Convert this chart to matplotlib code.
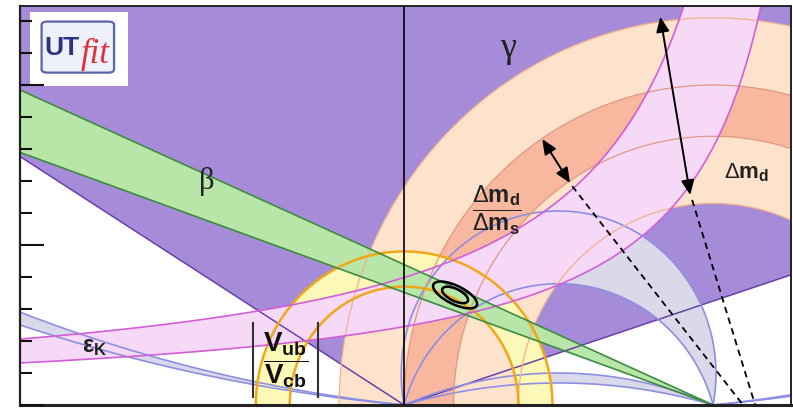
import numpy as np
import matplotlib.pyplot as plt
from matplotlib.patches import Wedge, Polygon, Ellipse, FancyBboxPatch, Rectangle

plt.rcParams['mathtext.fontset'] = 'custom'
plt.rcParams['mathtext.rm'] = 'Liberation Sans'
plt.rcParams['mathtext.bf'] = 'Liberation Sans:bold'
plt.rcParams['mathtext.it'] = 'Liberation Sans:italic'

# gamma: allowed directions seen from the origin (degrees)
gamma_range = [18.0, 148.0]
# Delta m_d and Delta m_d / Delta m_s rings around (1, 0)
dmd_ring = [0.63, 1.21]
ratio_ring = [0.84, 1.00]
# |Vub/Vcb| ring around the origin
vub_ring = [0.37, 0.48]
# sin2beta: tan(beta) of the two lines through (1, 0)
beta_tan = [0.352, 0.439]
# epsilon_K hyperbolae  eta = k / (rho0 - rho)  as (k, rho0)
epsk_low = [0.352, 1.437]
epsk_high = [0.530, 1.330]
# alpha: circles through (0,0) and (1,0) with centre (0.5, c)
alpha_main_c = [0.097, -0.140]
alpha_flat_c = [-1.20, -1.78]
alpha_side_c = [4.95, 5.70]
# fit result: centre, widths/heights of the two contours, tilt
fit_rho, fit_eta = 0.165, 0.344
fit_widths = [0.091, 0.155]
fit_heights = [0.038, 0.058]
fit_tilt = -25.0

# arrows showing the widths of the two Delta m bands
dmd_arrow = [(0.829, 1.213), (0.926, 0.656)]
dmd_guide = [(0.932, 0.641), (1.136, 0.0)]
ratio_arrow = [(0.447, 0.831), (0.537, 0.694)]
ratio_guide = [(0.544, 0.684), (1.097, 0.0)]

rho_lim = (-1.243, 1.252)
eta_lim = (0.0, 1.247)

purple, purple_ec = '#a68bd8', '#6a40a8'
peach, peach_ec = '#fde2cc', '#f2b08e'
salmon, salmon_ec = '#f8b8a0', '#e2987f'
yellow, yellow_ec = '#fcf9b8', '#f0a81a'
pink, pink_ec = '#f5d9f6', '#d25ed8'
grey, grey_ec = '#d9d9e9', '#8e8ee2'
green, green_ec = '#b8e6a8', '#3d8c42'


def alpha_arc(c, n=400):
    r = np.hypot(0.5, c)
    a = np.arctan2(-c, 0.5)
    t = np.linspace(a, np.pi - a, n)
    return 0.5 + r * np.cos(t), c + r * np.sin(t)


def alpha_side(c, rho):
    return c - np.sqrt(c ** 2 + rho - rho ** 2)


def ring_arc(cx, r, n=400):
    t = np.linspace(0, np.pi, n)
    return cx + r * np.cos(t), r * np.sin(t)


def epsk_curve(k, rho0, rho):
    return np.minimum(k / np.maximum(rho0 - rho, 1e-3), 3.0)


fig = plt.figure(figsize=(7.93, 4.08), dpi=100)
ax = fig.add_axes([20 / 793, 3 / 408, 771 / 793, 399 / 408])
ax.set_xlim(*rho_lim)
ax.set_ylim(*eta_lim)

# gamma wedge
far = 6.0
g1, g2 = np.radians(gamma_range)
ax.add_patch(Polygon([(0, 0), (far * np.cos(g1), far * np.sin(g1)),
                      (far * np.cos(g1), far), (far * np.cos(g2), far),
                      (far * np.cos(g2), far * np.sin(g2))],
                     closed=True, fc=purple, ec='none', zorder=1))

# alpha bands
for pair in (alpha_main_c, alpha_flat_c):
    x1, y1 = alpha_arc(pair[0])
    x2, y2 = alpha_arc(pair[1])
    ax.fill(np.r_[x1, x2[::-1]], np.r_[y1, y2[::-1]], fc=grey, ec='none', zorder=2)
rho_left = np.linspace(-1.4, 0, 300)
rho_right = np.linspace(1, 1.4, 100)
for rr in (rho_left, rho_right):
    ax.fill_between(rr, alpha_side(alpha_side_c[0], rr), alpha_side(alpha_side_c[1], rr),
                    fc=grey, ec='none', zorder=2)

# Delta m rings
ax.add_patch(Wedge((1, 0), dmd_ring[1], 0, 180, width=dmd_ring[1] - dmd_ring[0],
                   fc=peach, ec='none', zorder=3))
ax.add_patch(Wedge((1, 0), ratio_ring[1], 0, 180, width=ratio_ring[1] - ratio_ring[0],
                   fc=salmon, ec='none', zorder=4))

# |Vub/Vcb| ring
ax.add_patch(Wedge((0, 0), vub_ring[1], 0, 180, width=vub_ring[1] - vub_ring[0],
                   fc=yellow, ec='none', zorder=5))

# epsilon_K band
rho = np.linspace(-1.4, 1.4, 1200)
eps_lo = epsk_curve(*epsk_low, rho)
eps_hi = epsk_curve(*epsk_high, rho)
ax.fill_between(rho, eps_lo, eps_hi, fc=pink, ec='none', zorder=6)

# sin2beta band
rho_b = np.linspace(-1.4, 1.0, 50)
ax.fill_between(rho_b, beta_tan[0] * (1 - rho_b), beta_tan[1] * (1 - rho_b),
                fc=green, ec='none', zorder=7)

# outlines of every constraint
for ang in (g1, g2):
    ax.plot([0, far * np.cos(ang)], [0, far * np.sin(ang)], color=purple_ec, lw=1.1, zorder=8)
for c in alpha_main_c + alpha_flat_c:
    ax.plot(*alpha_arc(c), color=grey_ec, lw=1.2, zorder=8)
for c in alpha_side_c:
    ax.plot(rho_left, alpha_side(c, rho_left), color=grey_ec, lw=1.2, zorder=8)
    ax.plot(rho_right, alpha_side(c, rho_right), color=grey_ec, lw=1.2, zorder=8)
for r in dmd_ring:
    ax.plot(*ring_arc(1, r), color=peach_ec, lw=0.9, zorder=8)
for r in ratio_ring:
    ax.plot(*ring_arc(1, r), color=salmon_ec, lw=0.9, zorder=8)
for r in vub_ring:
    ax.plot(*ring_arc(0, r), color=yellow_ec, lw=1.8, zorder=8)
ax.plot(rho, eps_lo, color=pink_ec, lw=1.2, zorder=8)
ax.plot(rho, eps_hi, color=pink_ec, lw=1.2, zorder=8)
for tb in beta_tan:
    ax.plot(rho_b, tb * (1 - rho_b), color=green_ec, lw=1.2, zorder=8)

ax.axvline(0, color='black', lw=1.2, zorder=9)

# fit contours
for w, h in zip(fit_widths, fit_heights):
    ax.add_patch(Ellipse((fit_rho, fit_eta), w, h, angle=fit_tilt,
                         fc='none', ec='black', lw=1.8, zorder=10))

# width arrows and guide lines
for arrow, guide in ((dmd_arrow, dmd_guide), (ratio_arrow, ratio_guide)):
    ax.annotate('', xy=arrow[0], xytext=arrow[1],
                arrowprops=dict(arrowstyle='<|-|>,head_length=0.5,head_width=0.22',
                                color='black', lw=1.4, mutation_scale=18,
                                shrinkA=0, shrinkB=0), zorder=11)
    ax.plot([guide[0][0], guide[1][0]], [guide[0][1], guide[1][1]],
            color='black', lw=1.3, ls=(0, (3.6, 2.6)), zorder=11)

# labels
ax.text(0.337, 1.115, 'γ', family='Liberation Serif', fontsize=26,
        ha='center', va='center', color='#222222', zorder=12)
ax.text(-0.64, 0.70, 'β', family='Liberation Serif', fontsize=22,
        ha='center', va='center', color='#222222', zorder=12)
ax.text(1.107, 0.725, r'$\Delta\mathbf{m}_\mathbf{d}$', fontsize=16,
        ha='center', va='center', color='#222222', zorder=12)
ax.text(0.301, 0.607, r'$\dfrac{\Delta\mathbf{m}_\mathbf{d}}{\Delta\mathbf{m}_\mathbf{s}}$',
        fontsize=17, ha='center', va='center', color='#222222', zorder=12)
ax.text(-1.00, 0.185, r'$\mathbf{ε}_\mathbf{K}$', fontsize=17,
        ha='center', va='center', color='#222222', zorder=12)
ax.text(-0.382, 0.14, r'$\dfrac{\mathbf{V}_\mathbf{ub}}{\mathbf{V}_\mathbf{cb}}$',
        fontsize=20, ha='center', va='center', color='#111111', zorder=12)
for bar_rho in (-0.489, -0.278):
    ax.plot([bar_rho, bar_rho], [0.025, 0.256], color='#333333', lw=1.5, zorder=12)

# logo
ax.add_patch(Rectangle((0.013, 0.80), 0.127, 0.185, transform=ax.transAxes,
                       fc='white', ec='none', zorder=20))
ax.add_patch(FancyBboxPatch((0.028, 0.833), 0.094, 0.128, transform=ax.transAxes,
                            boxstyle='round,pad=0,rounding_size=0.008',
                            fc='#eef0fa', ec='#5a64a8', lw=1.6, zorder=21))
ax.text(0.031, 0.878, 'UT', transform=ax.transAxes, family='Liberation Sans',
        fontweight='bold', fontsize=19, color='#2b3380', ha='left', va='baseline', zorder=22)
ax.text(0.079, 0.858, 'fit', transform=ax.transAxes, family='Liberation Serif',
        style='italic', fontsize=25, color='#e0303a', ha='left', va='baseline', zorder=22)

# axes frame and ticks
ax.set_xticks([])
ax.set_yticks([0, 0.5, 1.0])
ax.set_yticks(np.arange(0, 1.25, 0.1), minor=True)
ax.tick_params(axis='y', which='major', direction='in', length=17, width=1.5,
               labelleft=False, color='#111111')
ax.tick_params(axis='y', which='minor', direction='in', length=8.5, width=1.5,
               color='#111111')
ax.yaxis.set_zorder(25)
for side, lw in (('left', 1.6), ('top', 1.4), ('bottom', 2.2), ('right', 1.4)):
    ax.spines[side].set_linewidth(lw)
    ax.spines[side].set_color('#222222')
    ax.spines[side].set_zorder(25)

fig.savefig('out.png', dpi=100)
